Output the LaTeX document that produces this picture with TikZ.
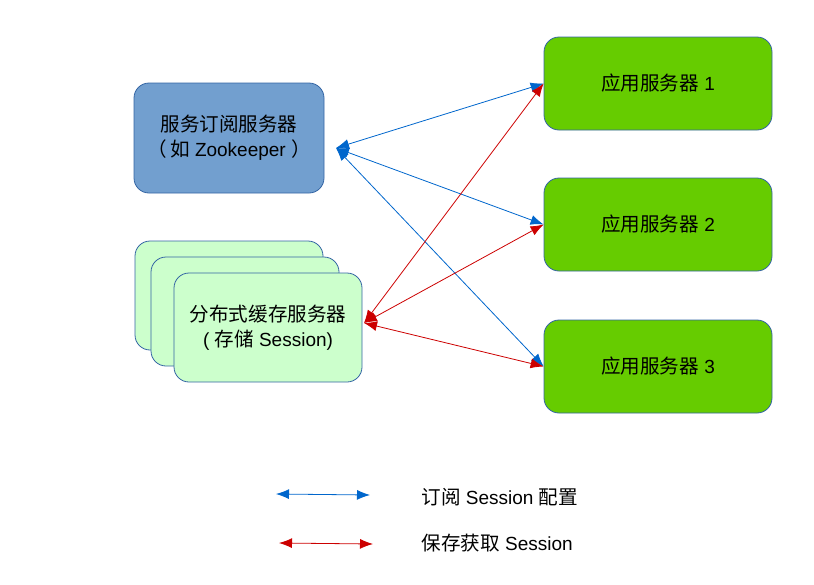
\documentclass[tikz,border=0pt]{standalone}
\usepackage{fontspec}
\setmainfont{Liberation Sans}
\newfontfamily\cjk[Scale=1.03]{Noto Sans CJK SC}
\usetikzlibrary{positioning,arrows.meta}
\definecolor{subblue}{RGB}{114,159,207}
\definecolor{boxedge}{RGB}{52,101,164}
\definecolor{appgreen}{RGB}{102,204,0}
\definecolor{cachegreen}{RGB}{204,255,204}
\definecolor{linkblue}{RGB}{0,102,204}
\definecolor{linkred}{RGB}{204,0,0}
\tikzset{
  serverbox/.style={draw=boxedge, line width=0.8pt, rounded corners=15pt, align=center,
    font=\fontsize{19}{25}\selectfont},
  subbox/.style={serverbox, fill=subblue, minimum width=190pt, minimum height=110pt},
  cachebox/.style={serverbox, fill=cachegreen, minimum width=188pt, minimum height=109pt},
  appbox/.style={serverbox, fill=appgreen, minimum width=228pt, minimum height=93pt},
  sublink/.style={linkblue, line width=0.8pt, {Latex[length=13pt,width=10pt]}-{Latex[length=13pt,width=10pt]}},
  savelink/.style={linkred, line width=0.8pt, {Latex[length=13pt,width=10pt]}-{Latex[length=13pt,width=10pt]}},
  legendtext/.style={anchor=west, font=\fontsize{19}{25}\selectfont}
}

\begin{document}
\begin{tikzpicture}[x=1pt, y=-1pt]
\useasboundingbox (0,0) rectangle (814,584);
% servers on the left
\node[subbox] (sub) at (229,138) {{\cjk 服务订阅服务器}\\{\cjk （\,如} Zookeeper {\cjk ）}};
\node[cachebox] (cache back) at (229,295.5) {};
\node[cachebox] (cache mid) at (245,311.5) {};
\node[cachebox] (cache) at (268,327.5) {{\cjk 分布式缓存服务器}\\( {\cjk 存储} Session)};
% application servers
\node[appbox] (app1) at (658,83.5) {{\cjk 应用服务器} 1};
\node[appbox] (app2) at (658,224.5) {{\cjk 应用服务器} 2};
\node[appbox] (app3) at (658,366.5) {{\cjk 应用服务器} 3};
\coordinate (sub hub) at (336,148);
\coordinate (cache hub) at (364,323);
% links
\draw[sublink] (sub hub) -- (app1.west);
\draw[sublink] (sub hub) -- (app2.west);
\draw[sublink] (sub hub) -- (app3.west);
\draw[savelink] (cache hub) -- (app1.west);
\draw[savelink] (cache hub) -- (app2.west);
\draw[savelink] (cache hub) -- (app3.west);
% legend
\coordinate (blue a) at (276,494);
\coordinate (blue b) at (370,495);
\coordinate (red a) at (279,543);
\coordinate (red b) at (373,544);
\draw[sublink] (blue a) -- (blue b);
\draw[savelink] (red a) -- (red b);
\node[legendtext] (sub label) at (418,497) {{\cjk 订阅} Session {\cjk 配置}};
\node[legendtext] (save label) at (418,543) {{\cjk 保存获取} Session};
\end{tikzpicture}
\end{document}
